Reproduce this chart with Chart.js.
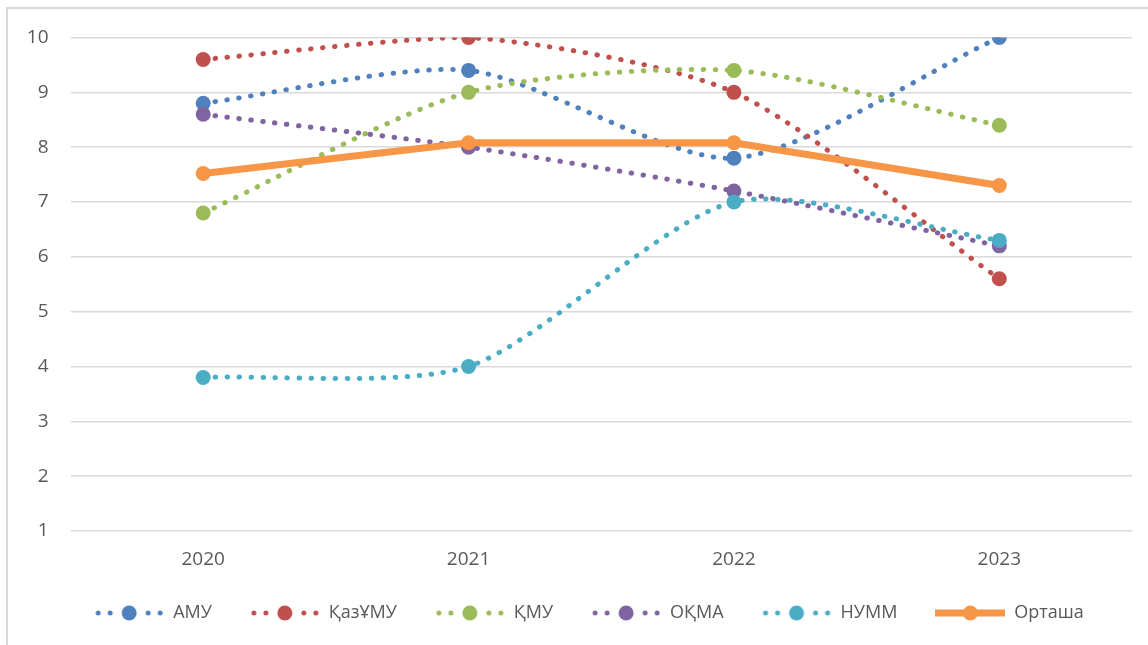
<!DOCTYPE html>
<html>
<head>
<meta charset="utf-8">
<script src="https://cdn.jsdelivr.net/npm/chart.js@4"></script>
<style>
  body { margin: 0; background: #fff; }
  #frame { position: absolute; left: 6px; top: 7px; width: 1200px; height: 700px;
           border-left: 2px solid #d9d9d9; border-top: 2px solid #d9d9d9; }
  #wrap { position: absolute; left: 0; top: 0; width: 1148px; height: 645px; }
</style>
</head>
<body>
<div id="frame"></div>
<div id="wrap"><canvas id="chart"></canvas></div>
<script>
const years = ['2020', '2021', '2022', '2023'];
const seriesNames = ['АМУ', 'ҚазҰМУ', 'ҚМУ', 'ОҚМА', 'НУММ', 'Орташа'];
const amu = [8.8, 9.4, 7.8, 10];
const kazumu = [9.6, 10, 9, 5.6];
const kmu = [6.8, 9, 9.4, 8.4];
const okma = [8.6, 8, 7.2, 6.2];
const numm = [3.8, 4, 7, 6.3];
const average = [7.52, 8.08, 8.08, 7.3];
const colors = ['#4f81bd', '#c0504d', '#9bbb59', '#8064a2', '#4bacc6', '#f79646'];
const values = [amu, kazumu, kmu, okma, numm, average];
const yTicks = [1, 2, 3, 4, 5, 6, 7, 8, 9, 10];

// legend symbol: line segment with a marker in the middle
function legendSymbol(color, dotted) {
  const c = document.createElement('canvas');
  c.width = 70; c.height = 20;
  const g = c.getContext('2d');
  g.fillStyle = color;
  g.strokeStyle = color;
  if (dotted) {
    [4, 16, 54, 66].forEach(x => {
      g.beginPath(); g.arc(x, 10, 2.5, 0, Math.PI * 2); g.fill();
    });
  } else {
    g.lineWidth = 7;
    g.beginPath(); g.moveTo(0, 10); g.lineTo(70, 10); g.stroke();
  }
  g.beginPath(); g.arc(35, 10, 7.5, 0, Math.PI * 2); g.fill();
  return c;
}

const datasets = seriesNames.map((name, i) => {
  const solid = i === seriesNames.length - 1;
  return {
    label: name,
    data: values[i],
    borderColor: colors[i],
    backgroundColor: colors[i],
    pointBackgroundColor: colors[i],
    pointBorderWidth: 0,
    pointRadius: 7.5,
    pointHoverRadius: 7.5,
    borderWidth: solid ? 7 : 5,
    borderDash: solid ? [] : [0.5, 11.5],
    borderCapStyle: 'round',
    tension: solid ? 0 : 0.25,
    order: seriesNames.length - i,
    symbol: legendSymbol(colors[i], !solid)
  };
});

// the legend sits a little right of the canvas centre
const legendShift = {
  id: 'legendShift',
  afterLayout(chart) {
    chart.legend.left += 23;
    chart.legend.right += 23;
  }
};

new Chart(document.getElementById('chart'), {
  type: 'line',
  data: { labels: years, datasets: datasets },
  plugins: [legendShift],
  options: {
    responsive: true,
    maintainAspectRatio: false,
    animation: false,
    layout: { padding: { left: 0, right: 16, top: 37.5, bottom: 13 } },
    plugins: {
      tooltip: { enabled: false },
      legend: {
        position: 'bottom',
        labels: {
          usePointStyle: true,
          pointStyleWidth: 70,
          boxHeight: 20,
          padding: 38,
          color: '#595959',
          font: { family: 'Open Sans', size: 18 },
          sort: (a, b) => a.datasetIndex - b.datasetIndex,
          generateLabels: chart => chart.data.datasets.map((ds, i) => ({
            text: ds.label,
            pointStyle: ds.symbol,
            fillStyle: ds.borderColor,
            strokeStyle: ds.borderColor,
            fontColor: '#595959',
            lineWidth: 0,
            hidden: false,
            datasetIndex: i
          }))
        }
      }
    },
    scales: {
      x: {
        offset: true,
        grid: { display: false, drawTicks: false },
        border: { display: false },
        ticks: { color: '#595959', font: { family: 'Open Sans', size: 19 }, padding: 17 },
        afterFit: s => { s.height = 35; }
      },
      y: {
        min: 1,
        max: 10,
        afterBuildTicks: s => { s.ticks = yTicks.map(v => ({ value: v })); },
        grid: { color: '#d9d9d9', lineWidth: 1.5, drawTicks: false },
        border: { display: false },
        ticks: { color: '#595959', font: { family: 'Open Sans', size: 19 }, padding: 22 },
        afterFit: s => { s.width = 70.5; }
      }
    }
  }
});
</script>
</body>
</html>
